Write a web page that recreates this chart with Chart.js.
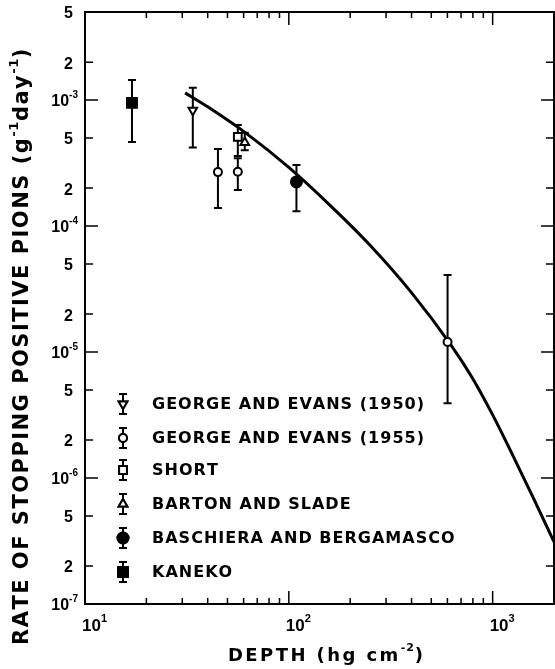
<!DOCTYPE html>
<html>
<head>
<meta charset="utf-8">
<script src="https://cdn.jsdelivr.net/npm/chart.js@4.4.0/dist/chart.umd.min.js"></script>
<style>
html, body { margin: 0; padding: 0; background: #fff; }
</style>
</head>
<body>
<canvas id="chart" width="555" height="669"></canvas>
<script>
// axis ticks ("^" marks the exponent)
const xTickVals = [10, 100, 1000];
const xTickLabels = ['10^1', '10^2', '10^3'];
const xMinorVals = [20, 30, 40, 50, 60, 70, 80, 90, 200, 300, 400, 500, 600, 700, 800, 900, 2000];
const yTickVals = [1e-7, 2e-7, 5e-7, 1e-6, 2e-6, 5e-6, 1e-5, 2e-5, 5e-5, 1e-4, 2e-4, 5e-4, 1e-3, 2e-3, 5e-3];
const yTickLabels = ['10^-7', '2', '5', '10^-6', '2', '5', '10^-5', '2', '5', '10^-4', '2', '5', '10^-3', '2', '5'];

// fitted curve
const fitDepth = [31, 40, 63, 100, 158, 251, 398, 631, 794, 1000, 1259, 1585, 2000];
const fitRate = [1.14e-3, 8.83e-4, 5.32e-4, 2.92e-4, 1.48e-4, 7.01e-5, 2.99e-5, 1.11e-5, 6.25e-6, 3.17e-6, 1.5e-6, 6.93e-7, 3.11e-7];

// measurements: depth, rate, lower and upper error
const ge1950Depth = [33.8];
const ge1950Rate = [8.3e-4];
const ge1950Lo = [4.2e-4];
const ge1950Hi = [1.25e-3];

const ge1955Depth = [44.9, 56.2, 601];
const ge1955Rate = [2.68e-4, 2.7e-4, 1.2e-5];
const ge1955Lo = [1.39e-4, 1.93e-4, 3.93e-6];
const ge1955Hi = [4.08e-4, 3.46e-4, 4.08e-5];

const shortDepth = [56.2];
const shortRate = [5.1e-4];
const shortLo = [3.6e-4];
const shortHi = [6.34e-4];

const bartonDepth = [60.8];
const bartonRate = [4.6e-4];
const bartonLo = [4.0e-4];
const bartonHi = [5.5e-4];

const baschieraDepth = [109];
const baschieraRate = [2.24e-4];
const baschieraLo = [1.31e-4];
const baschieraHi = [3.05e-4];

const kanekoDepth = [17.0];
const kanekoRate = [9.5e-4];
const kanekoLo = [4.64e-4];
const kanekoHi = [1.44e-3];

const legendNames = ['GEORGE AND EVANS (1950)', 'GEORGE AND EVANS (1955)', 'SHORT', 'BARTON AND SLADE', 'BASCHIERA AND BERGAMASCO', 'KANEKO'];
const xTitle = 'DEPTH (hg cm^-2)';
const yTitle = 'RATE OF STOPPING POSITIVE PIONS (g^-1day^-1)';

const FONT = '"DejaVu Sans", "Liberation Sans", sans-serif';
const NUMFONT = '"Liberation Sans", Arial, sans-serif';

function pts(xs, ys) {
    return xs.map((x, i) => ({ x: x, y: ys[i] }));
}

function marker(label, xs, ys, lo, hi, style, r, fill, rot) {
    return {
        label: label,
        data: pts(xs, ys),
        errLo: lo,
        errHi: hi,
        showLine: false,
        pointStyle: style,
        pointRadius: r,
        pointRotation: rot || 0,
        pointBackgroundColor: fill,
        pointBorderColor: '#000',
        pointBorderWidth: 2,
    };
}

const datasets = [
    marker(legendNames[0], ge1950Depth, ge1950Rate, ge1950Lo, ge1950Hi, 'triangle', 5, '#fff', 180),
    marker(legendNames[1], ge1955Depth, ge1955Rate, ge1955Lo, ge1955Hi, 'circle', 4, '#fff'),
    marker(legendNames[2], shortDepth, shortRate, shortLo, shortHi, 'rect', 5.5, '#fff'),
    marker(legendNames[3], bartonDepth, bartonRate, bartonLo, bartonHi, 'triangle', 5, '#fff'),
    marker(legendNames[4], baschieraDepth, baschieraRate, baschieraLo, baschieraHi, 'circle', 5.5, '#000'),
    marker(legendNames[5], kanekoDepth, kanekoRate, kanekoLo, kanekoHi, 'rect', 7, '#000'),
    {
        label: 'fit',
        data: pts(fitDepth, fitRate),
        showLine: true,
        borderColor: '#000',
        borderWidth: 3,
        pointRadius: 0,
        cubicInterpolationMode: 'monotone',
    },
];

function drawErrorBar(ctx, x, top, bot, half) {
    ctx.beginPath();
    ctx.moveTo(x, top); ctx.lineTo(x, bot);
    ctx.moveTo(x - half, top); ctx.lineTo(x + half, top);
    ctx.moveTo(x - half, bot); ctx.lineTo(x + half, bot);
    ctx.stroke();
}

// split "a^-1b^-2c" into plain and raised pieces
function pieces(str) {
    const out = [];
    str.split('^').forEach((part, i) => {
        if (i === 0) { out.push({ t: part, sup: false }); return; }
        const m = part.match(/^(-?\d+)(.*)$/);
        out.push({ t: m[1], sup: true });
        if (m[2]) out.push({ t: m[2], sup: false });
    });
    return out;
}

// letter by letter, with extra gap, small raised exponents
function richWidth(ctx, str, size, fam) {
    let w = 0, n = 0;
    pieces(str).forEach(p => {
        ctx.font = 'bold ' + (p.sup ? Math.round(size * 0.62) : size) + 'px ' + fam;
        for (const ch of p.t) { w += ctx.measureText(ch).width; n++; }
    });
    return { w: w, n: n };
}
function richText(ctx, str, x, y, size, gap, fam) {
    pieces(str).forEach(p => {
        ctx.font = 'bold ' + (p.sup ? Math.round(size * 0.62) : size) + 'px ' + fam;
        const dy = p.sup ? -size * 0.42 : 0;
        for (const ch of p.t) {
            ctx.fillText(ch, x, y + dy);
            x += ctx.measureText(ch).width + (p.sup ? gap * 0.4 : gap);
        }
    });
    return x;
}
function gapFor(ctx, str, size, width, fam) {
    const m = richWidth(ctx, str, size, fam);
    return (width - m.w) / (m.n - 1);
}

const errorBars = {
    id: 'errorBars',
    beforeDatasetsDraw(chart) {
        const ctx = chart.ctx;
        const xs = chart.scales.x, ys = chart.scales.y;
        ctx.save();
        ctx.strokeStyle = '#000';
        ctx.lineWidth = 2;
        chart.data.datasets.forEach(ds => {
            if (!ds.errLo) return;
            ds.data.forEach((p, i) => {
                drawErrorBar(ctx, xs.getPixelForValue(p.x), ys.getPixelForValue(ds.errHi[i]), ys.getPixelForValue(ds.errLo[i]), 4);
            });
        });
        ctx.restore();
    }
};

const frame = {
    id: 'frame',
    afterDraw(chart) {
        const ctx = chart.ctx;
        const a = chart.chartArea;
        const xs = chart.scales.x, ys = chart.scales.y;
        ctx.save();
        ctx.strokeStyle = '#000';
        ctx.lineWidth = 2;
        ctx.strokeRect(a.left, a.top, a.right - a.left, a.bottom - a.top);
        ctx.lineWidth = 1.5;
        ctx.beginPath();
        xTickVals.concat(xMinorVals).forEach(v => {
            const px = xs.getPixelForValue(v);
            if (px > a.right - 1) return;
            const len = xTickVals.includes(v) ? 13 : 6;
            ctx.moveTo(px, a.bottom); ctx.lineTo(px, a.bottom - len);
            ctx.moveTo(px, a.top); ctx.lineTo(px, a.top + len);
        });
        yTickVals.forEach((v, i) => {
            const py = ys.getPixelForValue(v);
            const len = yTickLabels[i].startsWith('10') ? 13 : 8;
            ctx.moveTo(a.left, py); ctx.lineTo(a.left + len, py);
            ctx.moveTo(a.right, py); ctx.lineTo(a.right - len, py);
        });
        ctx.stroke();

        // tick labels
        ctx.fillStyle = '#000';
        ctx.textBaseline = 'middle';
        ctx.textAlign = 'left';
        yTickVals.forEach((v, i) => {
            const py = ys.getPixelForValue(v);
            const lab = yTickLabels[i];
            const w = richWidth(ctx, lab, 16, NUMFONT).w;
            const right = lab.includes('^') ? 78 : 73;
            richText(ctx, lab, right - w, py + 2, 16, 0, NUMFONT);
        });
        xTickVals.forEach((v, i) => {
            const px = xs.getPixelForValue(v);
            richText(ctx, xTickLabels[i], px - 3, 626, 17, 0, NUMFONT);
        });

        // axis titles
        let gap = gapFor(ctx, xTitle, 18, 198, FONT);
        richText(ctx, xTitle, 228, 656, 18, gap, FONT);

        gap = gapFor(ctx, yTitle, 21, 600, FONT);
        ctx.translate(23, 345);
        ctx.rotate(-Math.PI / 2);
        richText(ctx, yTitle, -300, 0, 21, gap, FONT);
        ctx.restore();

        // legend
        const rows = [404, 438, 470, 504, 538, 572];
        ctx.save();
        ctx.fillStyle = '#000';
        ctx.strokeStyle = '#000';
        ctx.textBaseline = 'middle';
        gap = gapFor(ctx, legendNames[0], 16, 272, FONT);
        datasets.slice(0, 6).forEach((ds, i) => {
            const y = rows[i];
            ctx.lineWidth = 2;
            drawErrorBar(ctx, 123, y - 10, y + 10, 4);
            Chart.helpers.drawPoint(ctx, {
                pointStyle: ds.pointStyle,
                radius: ds.pointRadius,
                rotation: ds.pointRotation,
                borderWidth: 2,
            }, 123, y);
            ctx.fillStyle = ds.pointBackgroundColor;
            ctx.fill();
            ctx.stroke();
            ctx.fillStyle = '#000';
            richText(ctx, legendNames[i], 152, y + 1, 16, gap, FONT);
        });
        ctx.restore();
    }
};

new Chart(document.getElementById('chart'), {
    type: 'scatter',
    data: { datasets: datasets },
    options: {
        responsive: false,
        animation: false,
        devicePixelRatio: 1,
        layout: { autoPadding: false, padding: { top: 12, right: 1, left: 0, bottom: 0 } },
        plugins: { legend: { display: false }, tooltip: { enabled: false } },
        scales: {
            x: {
                type: 'logarithmic',
                min: 10,
                max: 2000,
                grid: { display: false, drawTicks: false },
                border: { display: false },
                ticks: { display: false },
                afterFit: s => { s.height = 65; },
            },
            y: {
                type: 'logarithmic',
                min: 1e-7,
                max: 5e-3,
                grid: { display: false, drawTicks: false },
                border: { display: false },
                ticks: { display: false },
                afterFit: s => { s.width = 85; },
            },
        },
    },
    plugins: [errorBars, frame],
});
</script>
</body>
</html>
